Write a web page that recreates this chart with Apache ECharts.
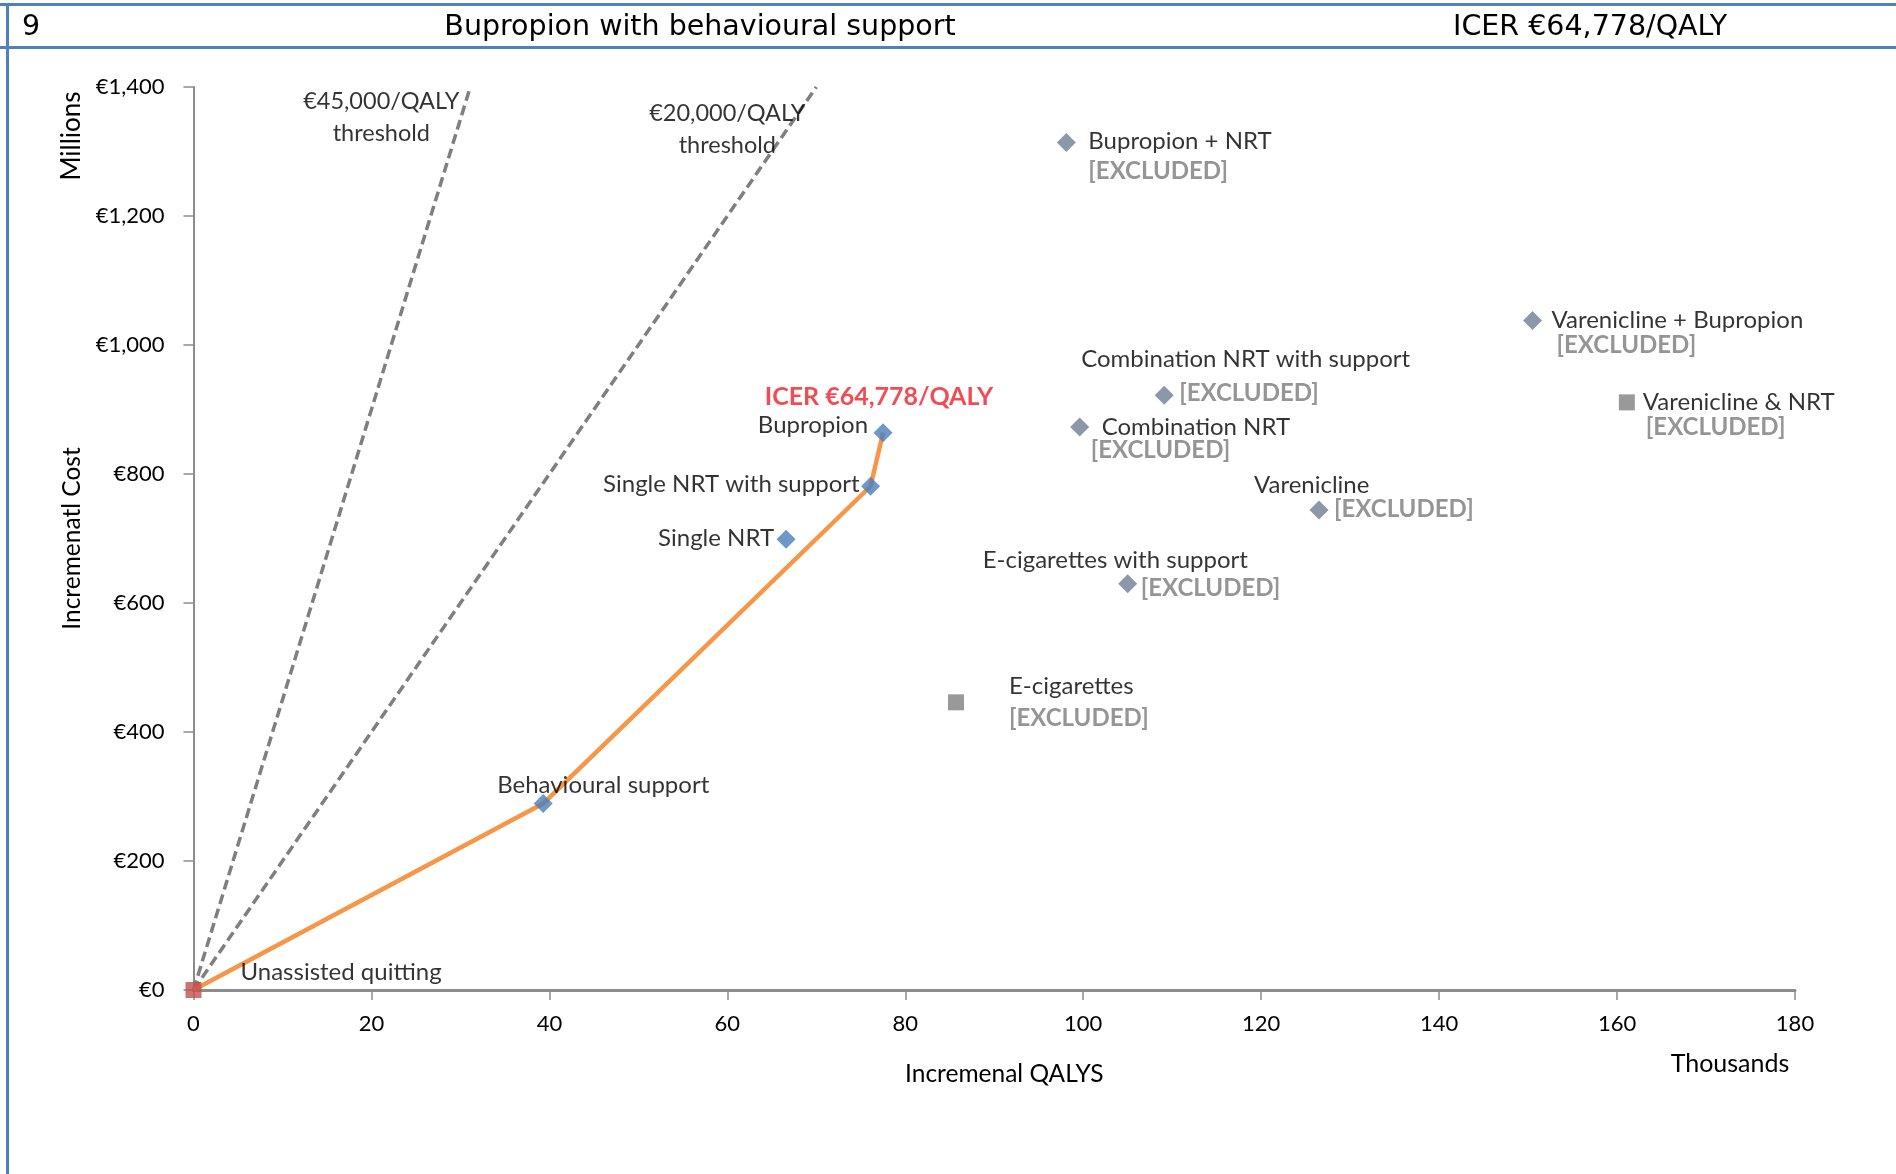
<!DOCTYPE html>
<html>
<head>
<meta charset="utf-8">
<script src="https://cdn.jsdelivr.net/npm/echarts@6/dist/echarts.min.js"></script>
<style>
html,body{margin:0;padding:0;background:#fff;}
#chart{width:1896px;height:1174px;}
</style>
</head>
<body>
<div id="chart"></div>
<script>
// ---- DATA ----
const strategies = ['Unassisted quitting','Behavioural support','Single NRT','Single NRT with support','Bupropion','Bupropion + NRT','Combination NRT with support','Combination NRT','Varenicline','E-cigarettes with support','E-cigarettes','Varenicline + Bupropion','Varenicline & NRT'];
const incQalys = [0, 39.3, 66.6, 76.1, 77.5, 98.1, 109.1, 99.6, 126.5, 105.0, 85.7, 150.5, 161.1]; // thousands
const incCost  = [0, 289, 699, 781, 864, 1314, 922, 873, 744, 630, 446, 1038, 911];               // € millions
const frontier = ['Unassisted quitting','Behavioural support','Single NRT with support','Bupropion'];
const excluded = ['Bupropion + NRT','Combination NRT with support','Combination NRT','Varenicline','E-cigarettes with support','E-cigarettes','Varenicline + Bupropion','Varenicline & NRT'];
const thresholds = [45000, 20000]; // € per QALY
const thresholdLabels = ['€45,000/QALY\nthreshold', '€20,000/QALY\nthreshold'];
const icerLabel = 'ICER €64,778/QALY';
const headerNumber = '9';
const headerTitle = 'Bupropion with behavioural support';
const headerIcer = 'ICER €64,778/QALY';
const xMin = 0, xMax = 180, xStep = 20;
const yMin = 0, yMax = 1400, yStep = 200;

// ---- STYLES ----
const FONT = 'Lato';
const HFONT = '28.5px "DejaVu Sans"';
const LBL = 24;
const markerStyle = {
  'Unassisted quitting': {symbol:'rect', size:16, color:'#C0504D'},
  'Behavioural support': {symbol:'diamond', size:19, color:'#4A7EBB'},
  'Single NRT': {symbol:'diamond', size:19, color:'#4A7EBB'},
  'Single NRT with support': {symbol:'diamond', size:19, color:'#4A7EBB'},
  'Bupropion': {symbol:'diamond', size:19, color:'#4A7EBB'},
  'Bupropion + NRT': {symbol:'diamond', size:19, color:'#6F7E93'},
  'Combination NRT with support': {symbol:'diamond', size:19, color:'#6F7E93'},
  'Combination NRT': {symbol:'diamond', size:19, color:'#6F7E93'},
  'Varenicline': {symbol:'diamond', size:19, color:'#6F7E93'},
  'E-cigarettes with support': {symbol:'diamond', size:19, color:'#6F7E93'},
  'E-cigarettes': {symbol:'rect', size:16, color:'#7F7F7F'},
  'Varenicline + Bupropion': {symbol:'diamond', size:19, color:'#6F7E93'},
  'Varenicline & NRT': {symbol:'rect', size:16, color:'#7F7F7F'}
};
// label offsets [dx, dy, align] relative to marker centre (px)
const labelPos = {
  'Unassisted quitting': [47,-18,'left'],
  'Behavioural support': [-46,-18,'left'],
  'Single NRT': [-12,-1,'right'],
  'Single NRT with support': [-11,-2,'right'],
  'Bupropion': [-15,-7,'right'],
  'Bupropion + NRT': [22,-1,'left'],
  'Combination NRT with support': [-83,-36,'left'],
  'Combination NRT': [22,0,'left'],
  'Varenicline': [-65,-25,'left'],
  'E-cigarettes with support': [-145,-23,'left'],
  'E-cigarettes': [53,-16,'left'],
  'Varenicline + Bupropion': [19,0,'left'],
  'Varenicline & NRT': [16,0,'left']
};
const excludedPos = {
  'Bupropion + NRT': [22,29],
  'Combination NRT with support': [15,-2],
  'Combination NRT': [11,23],
  'Varenicline': [15,-1],
  'E-cigarettes with support': [13,5],
  'E-cigarettes': [53,16],
  'Varenicline + Bupropion': [24,25],
  'Varenicline & NRT': [19,25]
};
const thresholdLabelPos = [[-89,30],[-89,42]];

function pt(name){ const i = strategies.indexOf(name); return [incQalys[i], incCost[i]]; }

const pointData = strategies.map((n,i)=>{
  const ms = markerStyle[n], lp = labelPos[n];
  return {
    name:n, value:[incQalys[i], incCost[i]],
    symbol: ms.symbol, symbolSize: ms.size,
    itemStyle:{color: ms.color},
    label:{show:true, position:'inside', offset:[lp[0],lp[1]], align:lp[2], verticalAlign:'middle',
      formatter:n, color:'#000', fontFamily:FONT, fontSize:LBL}
  };
});
const excludedData = excluded.map(n=>({
  name:n, value:pt(n),
  label:{show:true, position:'inside', offset:excludedPos[n], align:'left', verticalAlign:'middle',
    formatter:'[EXCLUDED]', color:'#7A7A7A', fontWeight:'bold', fontFamily:FONT, fontSize:LBL}
}));
excludedData.push({
  name:'icer', value:pt('Bupropion'),
  label:{show:true, position:'inside', offset:[-4,-36], align:'center', verticalAlign:'middle',
    formatter:icerLabel, color:'#F01E28', fontWeight:'bold', fontFamily:FONT, fontSize:25}
});
thresholds.forEach((t,k)=>{
  excludedData.push({
    name:'thr'+k, value:[yMax/(t/1000), yMax],
    label:{show:true, position:'inside', offset:thresholdLabelPos[k], align:'center', verticalAlign:'middle',
      formatter:thresholdLabels[k], color:'#000', fontFamily:FONT, fontSize:LBL-0.5, lineHeight:32}
  });
});

const series = [];
thresholds.forEach((t,k)=>{
  series.push({type:'line', data:[[0,0],[yMax/(t/1000), yMax]], symbol:'none', silent:true,
    lineStyle:{color:'#7F7F7F', width:3.5, type:[10,5]}, z:1});
});
series.push({type:'line', data:frontier.map(pt), symbol:'none', silent:true,
  lineStyle:{color:'#F79646', width:4.5}, z:2});
series.push({type:'scatter', data:pointData, z:5});
series.push({type:'scatter', data:excludedData, symbolSize:1, itemStyle:{color:'rgba(0,0,0,0)'}, silent:true, z:6});

const chart = echarts.init(document.getElementById('chart'));
chart.setOption({
  animation:false,
  backgroundColor:'#fff',
  grid:{left:193.5, right:101, top:87, bottom:184},
  xAxis:{type:'value', min:xMin, max:xMax, interval:xStep,
    name:'Incremenal QALYS', nameLocation:'middle', nameGap:72,
    nameTextStyle:{fontFamily:FONT, fontSize:24.5, color:'#000', padding:[0,0,0,20]},
    axisLine:{lineStyle:{color:'#8C8C8C', width:3}},
    axisTick:{show:true, length:10, lineStyle:{color:'#8C8C8C', width:1.5}},
    axisLabel:{margin:23, fontFamily:FONT, fontSize:22, color:'#000'},
    splitLine:{show:false}},
  yAxis:{type:'value', min:yMin, max:yMax, interval:yStep,
    name:'Incremenatl Cost', nameLocation:'middle', nameGap:109,
    nameTextStyle:{fontFamily:FONT, fontSize:24.5, color:'#000'},
    axisLine:{show:true, lineStyle:{color:'#8C8C8C', width:2}},
    axisTick:{show:true, length:10, lineStyle:{color:'#8C8C8C', width:1.5}},
    axisLabel:{margin:29, fontFamily:FONT, fontSize:22, color:'#000',
      formatter:v=>'€'+v.toLocaleString('en-US')},
    splitLine:{show:false}},
  graphic:[
    {type:'rect', shape:{x:0,y:3,width:1896,height:3}, style:{fill:'#4F81BD'}},
    {type:'rect', shape:{x:0,y:46,width:1896,height:3}, style:{fill:'#4F81BD'}},
    {type:'rect', shape:{x:6,y:3,width:3,height:1171}, style:{fill:'#4F81BD'}},
    {type:'text', x:22, y:28, style:{text:headerNumber, font:HFONT, fill:'#000', textAlign:'left', textVerticalAlign:'middle'}},
    {type:'text', x:700, y:28, style:{text:headerTitle, font:HFONT, fill:'#000', textAlign:'center', textVerticalAlign:'middle'}},
    {type:'text', x:1453, y:28, style:{text:headerIcer, font:HFONT, fill:'#000', textAlign:'left', textVerticalAlign:'middle'}},
    {type:'text', x:72, y:136, rotation:Math.PI/2, style:{text:'Millions', font:'26px Lato', fill:'#000', textAlign:'center', textVerticalAlign:'middle'}},
    {type:'text', x:1730, y:1064, style:{text:'Thousands', font:'25px Lato', fill:'#000', textAlign:'center', textVerticalAlign:'middle'}}
  ],
  series:series
});
</script>
</body>
</html>
